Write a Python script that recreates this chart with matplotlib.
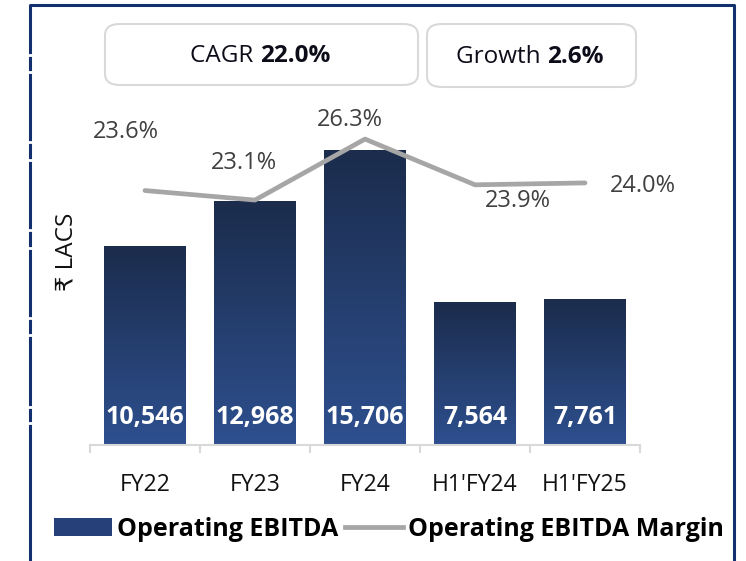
import numpy as np
import matplotlib.pyplot as plt
from matplotlib.colors import LinearSegmentedColormap
from matplotlib.patches import FancyBboxPatch, Patch
from matplotlib.lines import Line2D

categories = ['FY22', 'FY23', 'FY24', "H1'FY24", "H1'FY25"]
ebitda = [10546, 12968, 15706, 7564, 7761]
margin = [23.6, 23.1, 26.3, 23.9, 24.0]
cagr_text = '22.0%'
growth_text = '2.6%'

plt.rcParams['font.family'] = ['Open Sans', 'DejaVu Sans']

W, H = 746, 561
fig = plt.figure(figsize=(W / 100, H / 100), dpi=100)


def fx(px):
    return px / W


def fy(py):
    return (H - py) / H


ax = fig.add_axes([fx(90), fy(445), fx(640) - fx(90), fy(100) - fy(445)])
x = np.arange(len(categories))

bar_top = '#1b2c4c'
bar_bottom = '#2e508f'
cmap = LinearSegmentedColormap.from_list('bars', [bar_bottom, bar_top])
bars = ax.bar(x, ebitda, width=0.745, color='#26407a', zorder=1)
grad = np.linspace(0, 1, 256).reshape(-1, 1)
for b in bars:
    x0, y0 = b.get_xy()
    ax.imshow(grad, extent=(x0, x0 + b.get_width(), y0, y0 + b.get_height()),
              aspect='auto', cmap=cmap, origin='lower', zorder=2)

for xi, v in zip(x, ebitda):
    ax.text(xi, 1450, f'{v:,}', ha='center', va='center', color='white',
            fontsize=18, fontweight='bold', zorder=3)

ax.set_xlim(-0.5, len(categories) - 0.5)
ax.set_ylim(0, 18370)
for s in ['top', 'right', 'left']:
    ax.spines[s].set_visible(False)
ax.spines['bottom'].set_color('#d9d9d9')
ax.spines['bottom'].set_linewidth(1.5)
ax.set_yticks([])
ax.set_xticks(x)
ax.set_xticklabels(categories, fontsize=16.5, color='#111111')
ax.tick_params(axis='x', which='major', length=0, pad=20)
ax.set_xticks(np.arange(-0.5, len(categories)), minor=True)
ax.tick_params(axis='x', which='minor', length=6, width=1.5, color='#d9d9d9')
ax.set_ylabel('₹ LACS', fontsize=17.5, color='#111111', labelpad=8)
ax.yaxis.label.set_y(0.56)

ax2 = ax.twinx()
ax2.plot(x, margin, color='#a6a6a6', lw=3.4, solid_capstyle='round', zorder=4)
ax2.set_ylim(10.25, 28.35)
ax2.axis('off')
label_offsets = [(-14, 42), (-8, 27), (-11, 14), (31, -12), (42, -2)]
for xi, m, off in zip(x, margin, label_offsets):
    ax2.annotate(f'{m:.1f}%', (xi, m), xytext=off, textcoords='offset points',
                 ha='center', va='center', fontsize=17, color='#404040')

# summary boxes
for (l, t, r, b) in [(105, 24, 418, 85), (427, 24, 636, 87)]:
    fig.patches.append(FancyBboxPatch((fx(l), fy(b)), fx(r) - fx(l), fy(t) - fy(b),
                                      boxstyle='round,pad=0,rounding_size=0.02',
                                      transform=fig.transFigure, facecolor='white',
                                      edgecolor='#d9d9d9', lw=1.5))
fig.text(fx(260), fy(56), 'CAGR ', ha='right', va='center', fontsize=17.5, color='#0d0d1a')
fig.text(fx(260), fy(56), cagr_text, ha='left', va='center', fontsize=17.5,
         fontweight='bold', color='#0d0d1a')
fig.text(fx(547), fy(57), 'Growth ', ha='right', va='center', fontsize=17.5, color='#0d0d1a')
fig.text(fx(547), fy(57), growth_text, ha='left', va='center', fontsize=17.5,
         fontweight='bold', color='#0d0d1a')

# legend
handles = [Patch(facecolor='#26407a', edgecolor='none'),
           Line2D([], [], color='#a6a6a6', lw=3.4)]
fig.legend(handles, ['Operating EBITDA', 'Operating EBITDA Margin'], ncol=2,
           loc='center', bbox_to_anchor=(fx(389), fy(529)), frameon=False,
           prop={'weight': 'bold', 'size': 18}, handlelength=2.3, handleheight=0.7,
           handletextpad=0.2, columnspacing=0.3)

# outer frame
navy = '#13306e'
fig.add_artist(Line2D([fx(30), fx(30), fx(734), fx(734)], [0, fy(5), fy(5), 0],
                      color=navy, lw=2.2, transform=fig.transFigure))
for gy in [55, 72, 142, 160, 230, 248, 318, 335, 407, 423]:
    fig.add_artist(Line2D([fx(28), fx(32)], [fy(gy), fy(gy)], color='white', lw=2,
                          transform=fig.transFigure))

fig.savefig('out.png', dpi=100)
